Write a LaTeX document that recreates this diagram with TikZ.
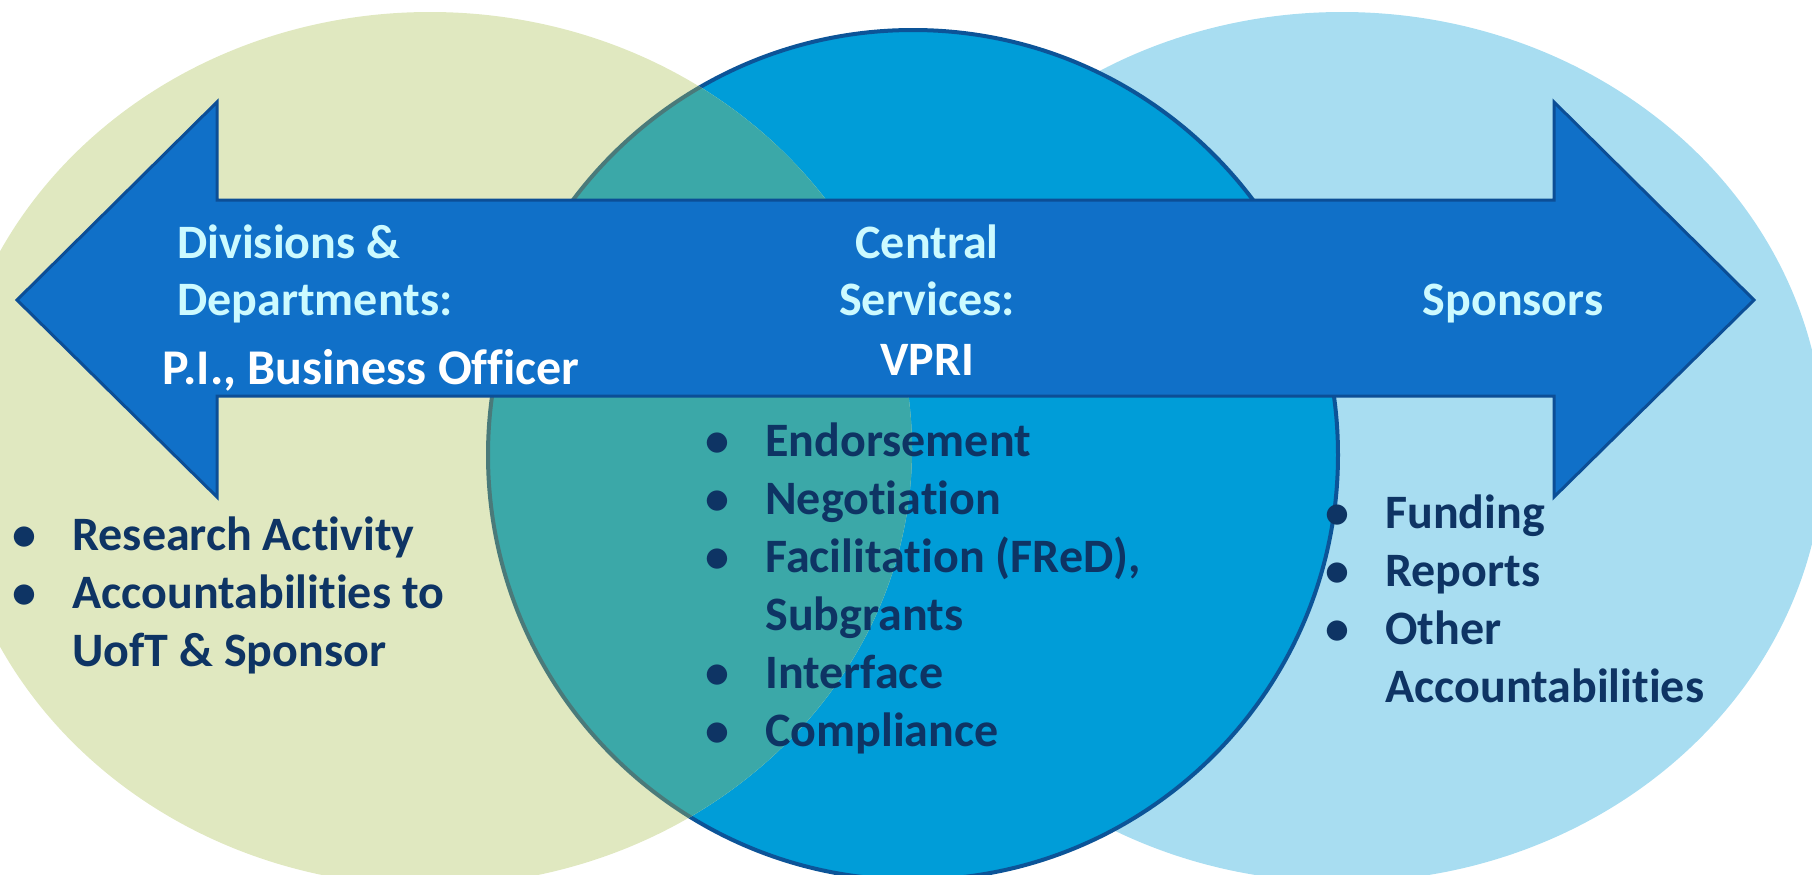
\documentclass[tikz,border=0pt]{standalone}
\usepackage{fontspec}
\setmainfont{Carlito}[Ligatures=NoCommon]
\usetikzlibrary{positioning}

\definecolor{divgreen}{RGB}{224,232,192}
\definecolor{centralblue}{RGB}{0,157,216}
\definecolor{centraledge}{RGB}{12,84,152}
\definecolor{overlapteal}{RGB}{59,168,168}
\definecolor{overlapedge}{RGB}{74,122,122}
\definecolor{sponsorblue}{RGB}{168,221,241}
\definecolor{arrowfill}{RGB}{16,112,200}
\definecolor{arrowedge}{RGB}{12,78,150}
\definecolor{headcyan}{RGB}{204,250,255}
\definecolor{listnavy}{RGB}{14,52,100}

\newcommand{\bul}{\makebox[30pt][l]{\textbullet}}

\begin{document}
\begin{tikzpicture}[x=0.5pt, y=-0.5pt,
    heading/.style={font=\bfseries\fontsize{24}{28.5}\selectfont, text=headcyan, inner sep=0pt},
    whitehead/.style={heading, text=white},
    itemlist/.style={font=\bfseries\fontsize{24}{29}\selectfont, text=listnavy, align=left, inner sep=0pt, anchor=base west}
]
    \useasboundingbox (0,0) rectangle (1812,874);
    \begin{scope}
        \clip (0,0) rectangle (1812,874);
        % three overlapping circles
        \fill[sponsorblue] (1342,447) ellipse[x radius=482, y radius=435];
        \filldraw[fill=centralblue, draw=centraledge, line width=2pt] (913,455) circle[radius=425];
        \fill[divgreen] (430,449) ellipse[x radius=482, y radius=437];
        \begin{scope}
            \clip (430,449) ellipse[x radius=482, y radius=437];
            \filldraw[fill=overlapteal, draw=overlapedge, line width=2pt] (913,455) circle[radius=425];
        \end{scope}
    \end{scope}

    % double arrow
    \draw[fill=arrowfill, draw=arrowedge, line width=1.5pt, line join=miter]
        (17,300) -- (217,102) -- (217,200) -- (1554,200) -- (1554,102) -- (1754,300)
        -- (1554,497) -- (1554,396) -- (217,396) -- (217,497) -- cycle;

    % multi-line nodes sit on the baseline of their last line
    \node[heading, align=left, anchor=base west] (divhead) at (177,315) {Divisions \&\\Departments:};
    \node[whitehead, anchor=base west, font=\bfseries\fontsize{25}{30}\selectfont] (pihead) at (162,384) {P.I., Business Officer};
    \node[heading, align=center, anchor=base] (centralhead) at (927,315) {Central\\Services:};
    \node[whitehead, anchor=base] (vpri) at (927,375) {VPRI};
    \node[heading, anchor=base] (sponsorhead) at (1513,315) {Sponsors};

    \node[itemlist] (divlist) at (12,666) {\bul Research Activity\\\bul Accountabilities to\\\hspace*{30pt}UofT \& Sponsor};
    \node[itemlist] (centrallist) at (705,746) {\bul Endorsement\\\bul Negotiation\\\bul Facilitation (FReD),\\\hspace*{30pt}Subgrants\\\bul Interface\\\bul Compliance};
    \node[itemlist] (sponsorlist) at (1325,702) {\bul Funding\\\bul Reports\\\bul Other\\\hspace*{30pt}Accountabilities};
\end{tikzpicture}
\end{document}
